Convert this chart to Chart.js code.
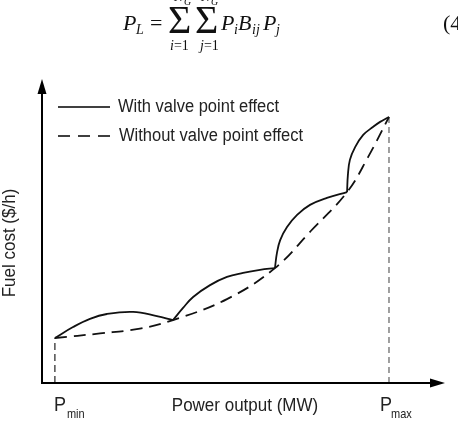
<!DOCTYPE html>
<html lang="en">
<head>
  <meta charset="UTF-8" />
  <title>Fuel cost curve</title>
  <style>
    body { margin: 0; background: #fff; }
    #wrap { position: relative; width: 458px; height: 426px; overflow: hidden; }
    #chart { position: absolute; left: 0; top: 0; }
    .eq {
      position: absolute;
      font-family: "Liberation Serif", "Times New Roman", serif;
      color: #111;
      line-height: 1;
      white-space: nowrap;
    }
  </style>
</head>
<body>
  <div id="wrap">
    <canvas id="chart" width="458" height="426"></canvas>
  </div>

  <script src="https://cdn.jsdelivr.net/npm/chart.js"></script>
  <script>
    // curve with valve point effect (arbitrary 0-100 units)
    const withPower = [3.2, 7.7, 11.9, 16.1, 22.6, 28.5, 32.5,
                       35.0, 37.5, 41.7, 45.9, 49.9, 54.1, 57.8,
                       58.3, 59.1, 60.8, 63.3, 66.5, 70.7, 75.7,
                       75.9, 76.4, 77.7, 79.7, 82.1, 83.9, 86.1];
    const withCost = [14.8, 18.4, 21.1, 22.7, 23.4, 22.0, 20.7,
                      24.7, 28.3, 32.2, 34.9, 36.2, 37.2, 37.8,
                      42.8, 47.0, 51.3, 55.3, 58.6, 60.9, 62.8,
                      68.4, 73.4, 77.6, 81.6, 84.2, 85.9, 87.5];
    const valleyIdx = [6, 13, 20]; // cusps where a new arc starts

    // smooth curve without valve point effect
    const noPower = [3.2, 14.4, 24.3, 32.5, 45.9, 57.8, 66.7, 75.7, 80.9, 86.1];
    const noCost = [14.8, 16.3, 17.9, 20.7, 27.6, 37.8, 50.0, 62.8, 74.3, 87.5];

    const legendLabels = ["With valve point effect", "Without valve point effect"];
    const xTitle = "Power output (MW)";
    const yTitle = "Fuel cost ($/h)";

    // equation above the chart: [html, left, baseline, size, italic]
    const eqParts = [
      ["P", 123, 30, 22, true], ["L", 136, 35, 14, true], ["=", 150, 30, 22, false],
      ["\u03A3", 168, 33, 40, false], ["\u03A3", 195, 33, 40, false],
      ["N", 174, 2, 14, true], ["G", 184, 5, 10, true],
      ["N", 201, 2, 14, true], ["G", 211, 5, 10, true],
      ["<i>i</i>=1", 170, 51, 14, false], ["<i>j</i>=1", 200, 51, 14, false],
      ["P", 221, 30, 22, true], ["i", 234, 35, 14, true],
      ["B", 238, 30, 22, true], ["ij", 252, 35, 14, true],
      ["P", 263, 30, 22, true], ["j", 276, 35, 14, true],
      ["(4", 443, 30, 22, false]
    ];
    const wrap = document.getElementById("wrap");
    eqParts.forEach(([html, left, base, size, it]) => {
      const s = document.createElement("div");
      s.className = "eq";
      s.innerHTML = html;
      s.style.left = left + "px";
      s.style.top = (base - 0.8375 * size) + "px";
      s.style.fontSize = size + "px";
      s.style.fontStyle = it ? "italic" : "normal";
      wrap.appendChild(s);
    });

    const cuts = [0, ...valleyIdx, withPower.length - 1];
    const arcSets = [];
    for (let k = 0; k < cuts.length - 1; k++) {
      const pts = [];
      for (let i = cuts[k]; i <= cuts[k + 1]; i++) pts.push({ x: withPower[i], y: withCost[i] });
      arcSets.push({
        label: legendLabels[0],
        data: pts,
        borderColor: "#111",
        borderWidth: 1.8,
        tension: 0.4
      });
    }

    const last = withPower.length - 1;
    const datasets = [
      ...arcSets,
      {
        label: legendLabels[1],
        data: noPower.map((p, i) => ({ x: p, y: noCost[i] })),
        borderColor: "#111",
        borderWidth: 1.8,
        borderDash: [12, 7],
        tension: 0.4
      },
      {
        label: "Pmin",
        data: [{ x: withPower[0], y: 0 }, { x: withPower[0], y: withCost[0] }],
        borderColor: "#222",
        borderWidth: 1.2,
        borderDash: [7, 4]
      },
      {
        label: "Pmax",
        data: [{ x: withPower[last], y: 0 }, { x: withPower[last], y: withCost[last] }],
        borderColor: "#888",
        borderWidth: 1.6,
        borderDash: [6, 4]
      }
    ];

    // draws text a bit taller than wide, like the scanned original
    function tallText(ctx, str, x, y) {
      ctx.save();
      ctx.translate(x, y);
      ctx.scale(1, 1.1);
      ctx.fillText(str, 0, 0);
      ctx.restore();
    }

    const decor = {
      id: "decor",
      afterDraw(chart) {
        const { ctx, chartArea: a, scales: { x } } = chart;
        ctx.save();
        ctx.strokeStyle = "#000";
        ctx.fillStyle = "#000";
        ctx.lineWidth = 2;
        ctx.setLineDash([]);
        ctx.beginPath();
        ctx.moveTo(a.left, a.top + 12);
        ctx.lineTo(a.left, a.bottom);
        ctx.lineTo(a.right - 12, a.bottom);
        ctx.stroke();
        ctx.beginPath();
        ctx.moveTo(a.left, a.top);
        ctx.lineTo(a.left - 4.5, a.top + 15);
        ctx.lineTo(a.left + 4.5, a.top + 15);
        ctx.closePath();
        ctx.fill();
        ctx.beginPath();
        ctx.moveTo(a.right, a.bottom);
        ctx.lineTo(a.right - 15, a.bottom - 4.5);
        ctx.lineTo(a.right - 15, a.bottom + 4.5);
        ctx.closePath();
        ctx.fill();

        // legend
        ctx.lineWidth = 1.6;
        ctx.beginPath();
        ctx.moveTo(58, 107);
        ctx.lineTo(110, 107);
        ctx.stroke();
        ctx.setLineDash([12, 8]);
        ctx.beginPath();
        ctx.moveTo(58, 136);
        ctx.lineTo(110, 136);
        ctx.stroke();
        ctx.setLineDash([]);
        ctx.fillStyle = "#222";
        ctx.font = '16.5px "Liberation Sans", Arial, sans-serif';
        ctx.textBaseline = "middle";
        tallText(ctx, legendLabels[0], 118, 107);
        tallText(ctx, legendLabels[1], 119, 136);

        // axis labels
        ctx.textBaseline = "alphabetic";
        ctx.font = '17px "Liberation Sans", Arial, sans-serif';
        ctx.textAlign = "center";
        tallText(ctx, xTitle, 245, 411);
        ctx.textAlign = "left";
        const pMinX = x.getPixelForValue(withPower[0]);
        const pMaxX = x.getPixelForValue(withPower[last]);
        ctx.font = '18px "Liberation Sans", Arial, sans-serif';
        tallText(ctx, "P", pMinX - 1, 411);
        tallText(ctx, "P", pMaxX - 9, 411);
        ctx.font = '11px "Liberation Sans", Arial, sans-serif';
        tallText(ctx, "min", pMinX + 12, 418);
        tallText(ctx, "max", pMaxX + 2, 418);

        ctx.save();
        ctx.translate(10, 243);
        ctx.rotate(-Math.PI / 2);
        ctx.textAlign = "center";
        ctx.textBaseline = "middle";
        ctx.font = '17px "Liberation Sans", Arial, sans-serif';
        ctx.scale(1, 1.1);
        ctx.fillText(yTitle, 0, 0);
        ctx.restore();
        ctx.restore();
      }
    };

    new Chart(document.getElementById("chart").getContext("2d"), {
      type: "line",
      data: { datasets },
      options: {
        responsive: false,
        animation: false,
        devicePixelRatio: 1,
        layout: { padding: { left: 42, top: 79, right: 13, bottom: 43 } },
        elements: { point: { radius: 0 } },
        scales: {
          x: { type: "linear", display: false, min: 0, max: 100 },
          y: { display: false, min: 0, max: 100 }
        },
        plugins: { legend: { display: false }, tooltip: { enabled: false } }
      },
      plugins: [decor]
    });
  </script>
</body>
</html>
